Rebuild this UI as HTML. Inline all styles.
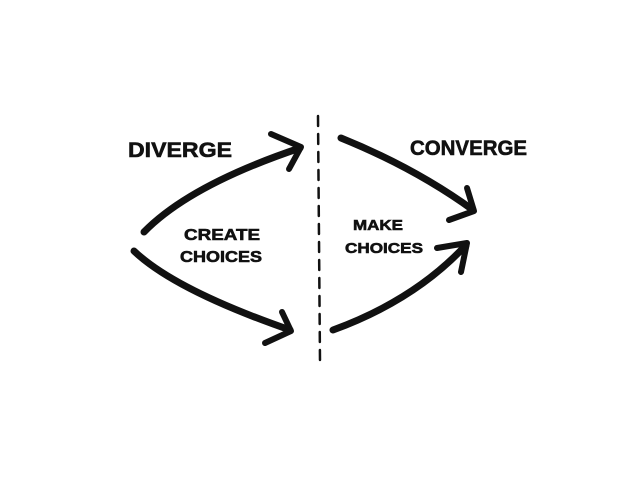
<!DOCTYPE html>
<html><head><style>
html,body{margin:0;padding:0;background:#fff;width:638px;height:479px;overflow:hidden}
svg text{font-family:"Liberation Sans",sans-serif;font-weight:bold;fill:#111;stroke:#111;stroke-width:0.6}
</style></head><body>
<svg width="638" height="479" viewBox="0 0 638 479" xmlns="http://www.w3.org/2000/svg">
<g fill="none" stroke="#111" stroke-linecap="round" stroke-linejoin="round">
<path d="M144 232 Q190 185 300 148" stroke-width="7"/>
<path d="M271 134 L301 147 L289 169" stroke-width="6"/>
<path d="M134 251 Q175 290 290 330" stroke-width="7"/>
<path d="M282 312 L291 331 L265 343" stroke-width="6"/>
<path d="M341 138 Q415 168 473 210" stroke-width="7"/>
<path d="M467 188 L474 211 L449 220" stroke-width="6"/>
<path d="M333 330 Q415 300 466 245" stroke-width="7"/>
<path d="M437 248 L467 243 L461 272" stroke-width="6"/>
<path d="M318 116 L320 362" stroke-width="2.5" stroke-dasharray="10 8"/>
</g>
<text x="128" y="157" font-size="21" textLength="104" lengthAdjust="spacingAndGlyphs">DIVERGE</text>
<text x="410" y="155" font-size="21" textLength="117" lengthAdjust="spacingAndGlyphs">CONVERGE</text>
<text x="184" y="240" font-size="16" textLength="76" lengthAdjust="spacingAndGlyphs">CREATE</text>
<text x="180" y="262" font-size="16" textLength="82" lengthAdjust="spacingAndGlyphs">CHOICES</text>
<text x="353" y="230" font-size="15" textLength="50" lengthAdjust="spacingAndGlyphs">MAKE</text>
<text x="345" y="253" font-size="15" textLength="78" lengthAdjust="spacingAndGlyphs">CHOICES</text>
</svg>
</body></html>
